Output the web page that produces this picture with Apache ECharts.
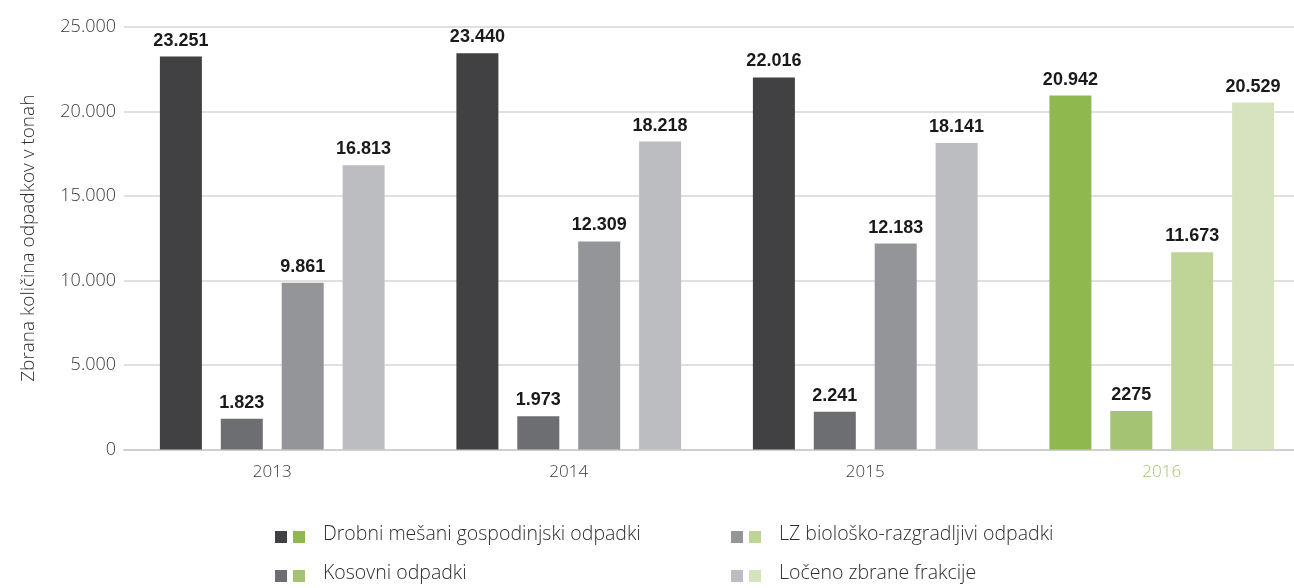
<!DOCTYPE html>
<html>
<head>
<meta charset="utf-8">
<script src="https://cdn.jsdelivr.net/npm/echarts@6/dist/echarts.min.js"></script>
<style>
  html, body { margin: 0; padding: 0; background: #fff; }
  #chart { width: 1294px; height: 588px; }
</style>
</head>
<body>
<div id="chart"></div>
<script>
// podatki
const years = ['2013', '2014', '2015', '2016'];
const seriesNames = [
  'Drobni mešani gospodinjski odpadki',
  'Kosovni odpadki',
  'LZ biološko-razgradljivi odpadki',
  'Ločeno zbrane frakcije'
];
const drobni = [23251, 23440, 22016, 20942];
const kosovni = [1823, 1973, 2241, 2275];
const lz = [9861, 12309, 12183, 11673];
const loceno = [16813, 18218, 18141, 20529];
const yTicks = { min: 0, max: 25000, interval: 5000 };

const grayColors = ['#414143', '#6d6e71', '#939598', '#bcbdc0'];
const greenColors = ['#8fb84f', '#a5c473', '#bfd597', '#d6e3be'];
const highlightYear = '2016';

const fmt = (v) => String(v).replace(/\B(?=(\d{3})+(?!\d))/g, '.');

const makeSeries = (name, values, idx) => ({
  name: name,
  type: 'bar',
  barWidth: 42,
  barGap: '45%',
  data: values.map((v, i) => {
    const item = {
      value: v,
      itemStyle: { color: years[i] === highlightYear ? greenColors[idx] : grayColors[idx] },
    };
    // v viru je ta vrednost zapisana brez pike
    if (years[i] === highlightYear && idx === 1) {
      item.label = { formatter: String(v) };
    }
    return item;
  }),
  label: {
    show: true,
    position: 'top',
    distance: 7,
    color: '#1a1a1a',
    fontFamily: 'Liberation Sans',
    fontWeight: 'bold',
    fontSize: 18,
    formatter: (p) => fmt(p.value),
  },
});

const chart = echarts.init(document.getElementById('chart'));

// legenda: dva kvadratka + besedilo
const legendPos = [
  { x: 275, y: 537 },
  { x: 275, y: 576 },
  { x: 731, y: 537 },
  { x: 731, y: 576 },
];
const legendGraphics = [];
seriesNames.forEach((n, i) => {
  const p = legendPos[i];
  legendGraphics.push(
    { type: 'rect', left: p.x, top: p.y - 6, shape: { width: 12, height: 12 }, style: { fill: grayColors[i] } },
    { type: 'rect', left: p.x + 18, top: p.y - 6, shape: { width: 12, height: 12 }, style: { fill: greenColors[i] } },
    {
      type: 'text', left: p.x + 48, top: p.y - 13,
      style: { text: n, fill: '#2e2e2e', font: '300 19.5px "Open Sans"', textVerticalAlign: 'top' },
    }
  );
});

const option = {
  animation: false,
  grid: { left: 124, width: 1186, top: 27, bottom: 138.5, containLabel: false, outerBoundsMode: 'none' },
  xAxis: {
    type: 'category',
    data: years,
    axisLine: { lineStyle: { color: '#cfcfcf', width: 2 } },
    axisTick: { show: false },
    axisLabel: {
      margin: 14,
      fontFamily: 'Open Sans',
      fontWeight: 300,
      fontSize: 17,
      color: (v) => (v === highlightYear ? '#a2c46b' : '#3a3a3a'),
    },
  },
  yAxis: {
    type: 'value',
    min: yTicks.min,
    max: yTicks.max,
    interval: yTicks.interval,
    name: 'Zbrana količina odpadkov v tonah',
    nameLocation: 'middle',
    nameGap: 86,
    nameTextStyle: { fontFamily: 'Open Sans', fontWeight: 300, fontSize: 19, color: '#2e2e2e' },
    axisLine: { show: false },
    axisTick: { show: false },
    axisLabel: {
      margin: 8,
      fontFamily: 'Open Sans',
      fontWeight: 300,
      fontSize: 18,
      color: '#3a3a3a',
      formatter: (v) => fmt(v),
    },
    splitLine: { lineStyle: { color: '#d6d6d6', width: 1.5 } },
  },
  series: [
    makeSeries(seriesNames[0], drobni, 0),
    makeSeries(seriesNames[1], kosovni, 1),
    makeSeries(seriesNames[2], lz, 2),
    makeSeries(seriesNames[3], loceno, 3),
  ],
  graphic: legendGraphics,
};
chart.setOption(option);
</script>
</body>
</html>
